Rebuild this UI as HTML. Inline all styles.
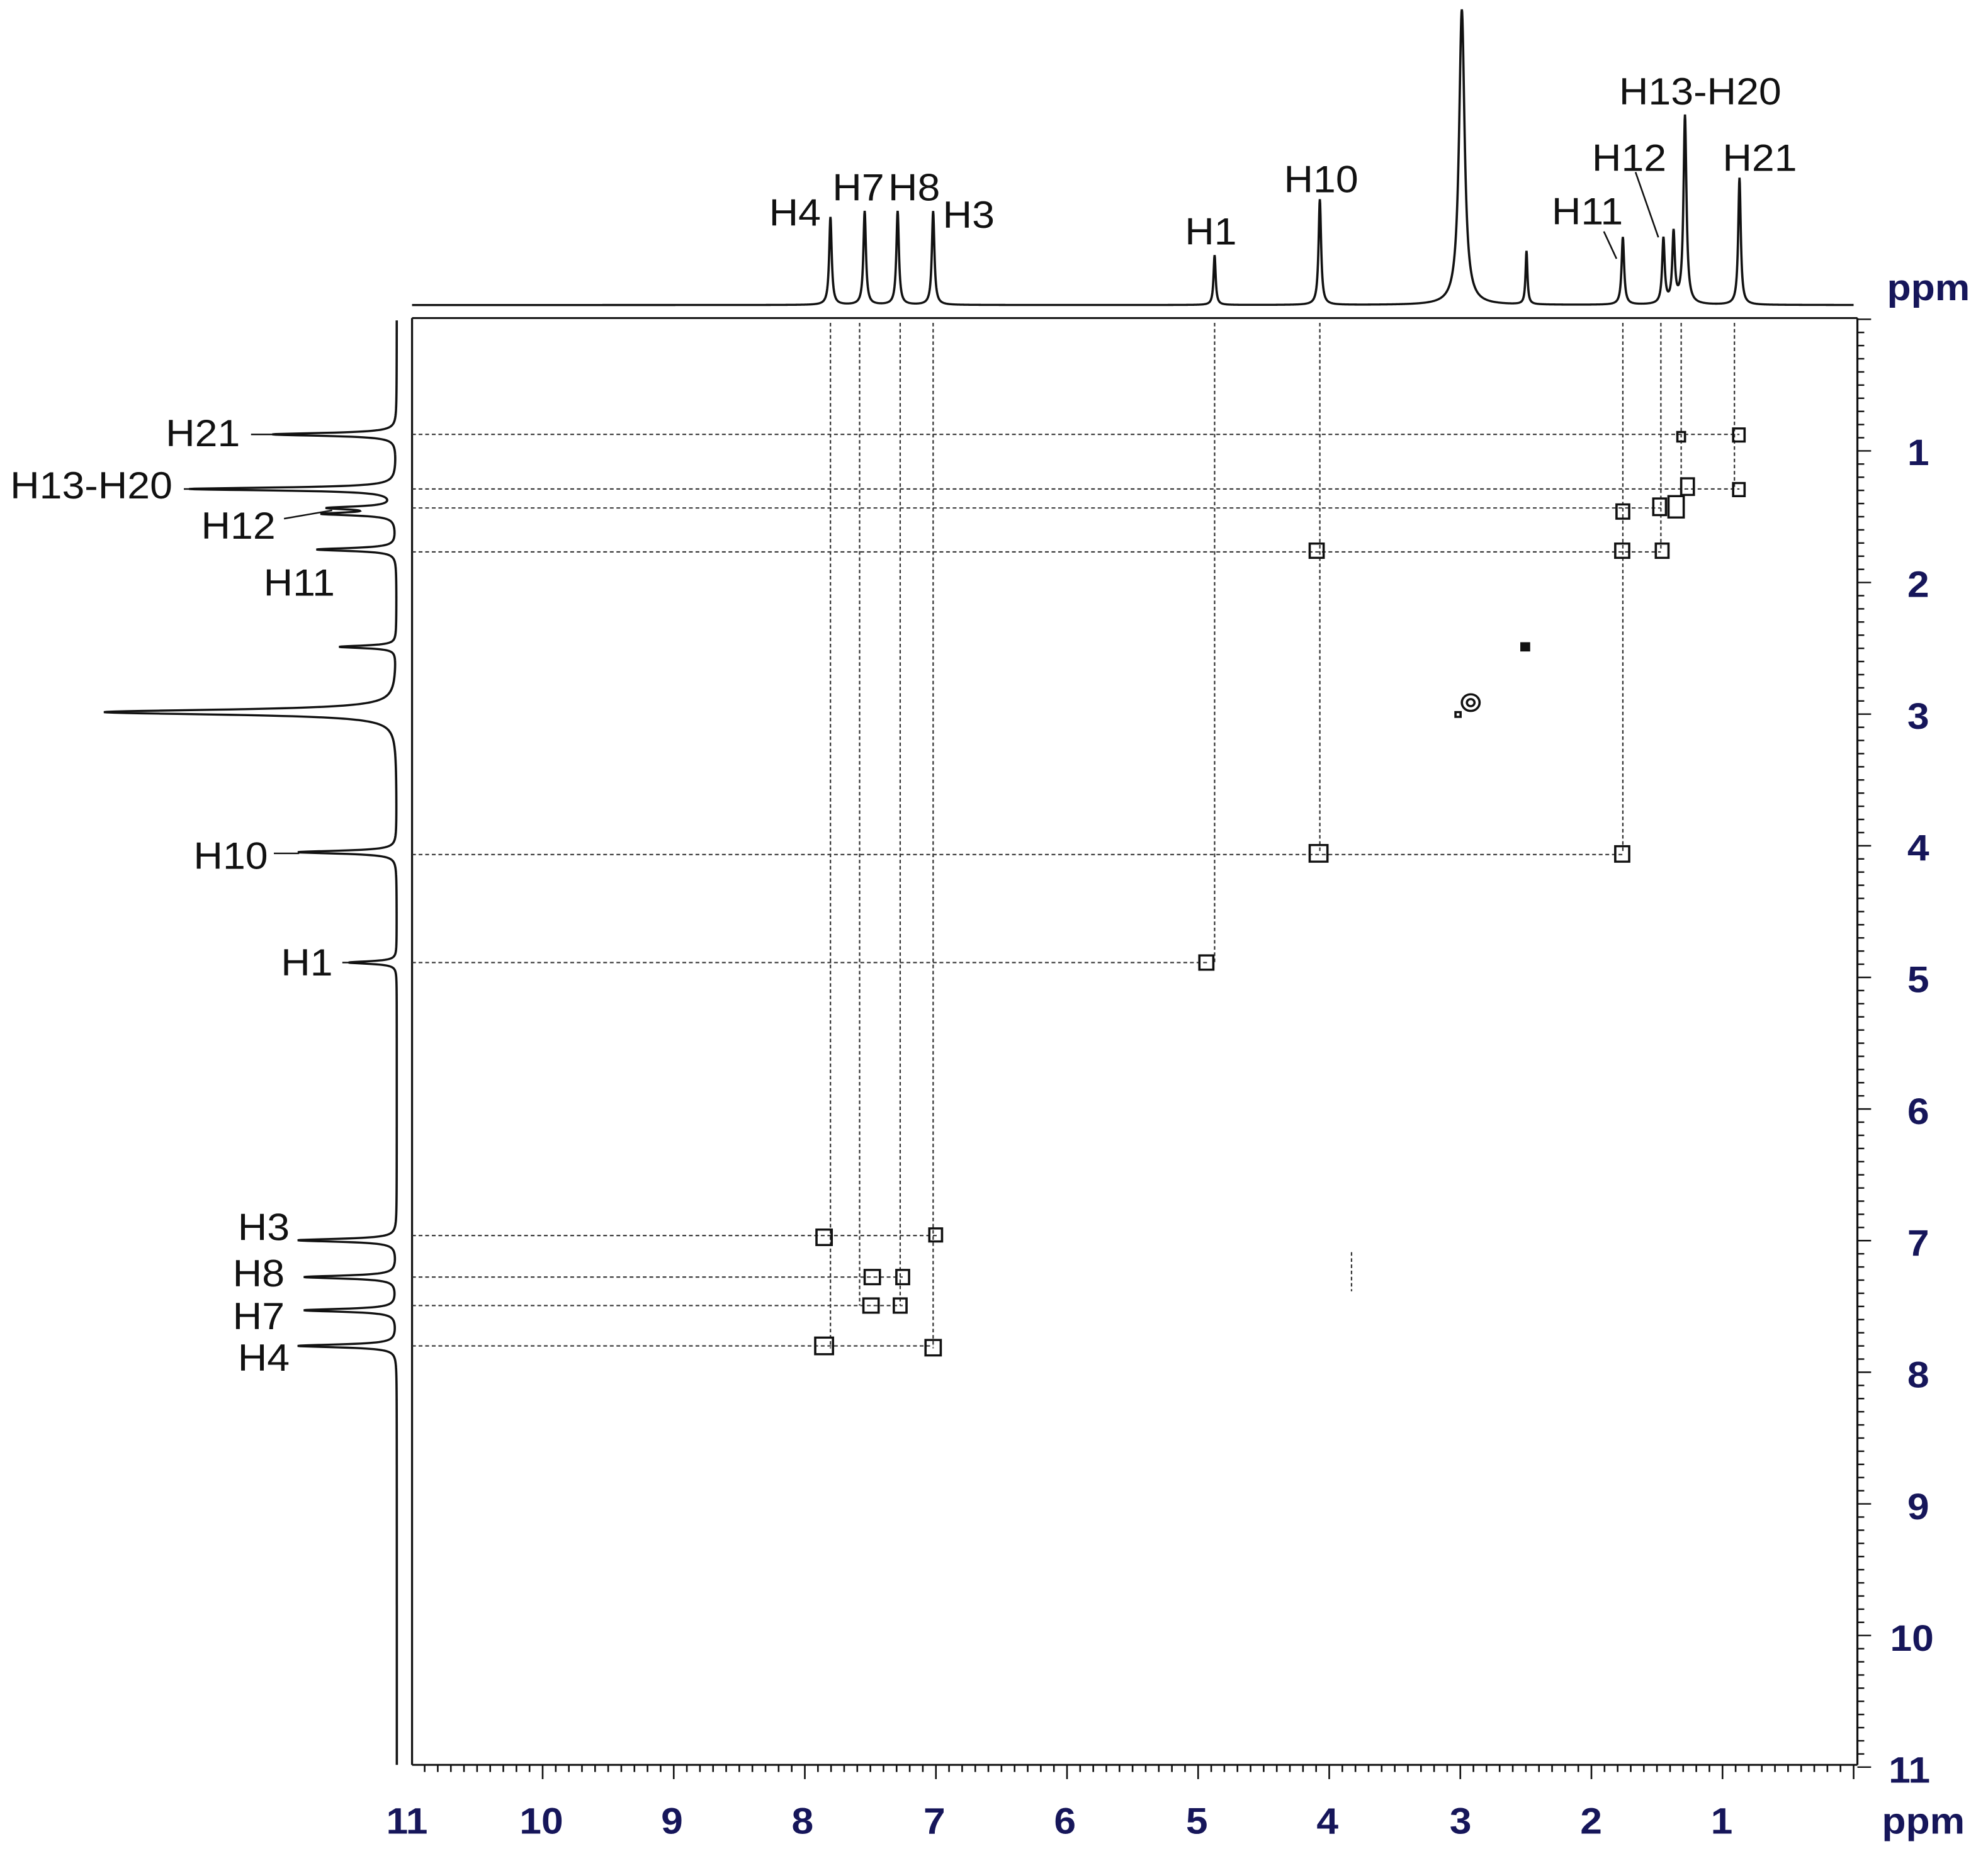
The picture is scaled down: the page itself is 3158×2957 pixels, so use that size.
<!DOCTYPE html>
<html><head><meta charset="utf-8"><style>
html,body{margin:0;padding:0;background:#fff;}
svg{display:block;}
.lab{font-family:"Liberation Sans",sans-serif;font-size:32px;fill:#111;}
.ax{font-family:"Liberation Sans",sans-serif;font-size:31px;font-weight:bold;fill:#16165a;}
.d{stroke:#333;stroke-width:1.1;stroke-dasharray:3 2.2;fill:none;}
.cp{fill:none;stroke:#111;stroke-width:1.8;}
</style></head><body>
<svg id="s" width="3158" height="2957" viewBox="0 0 1568 1568" preserveAspectRatio="none" xmlns="http://www.w3.org/2000/svg">
<rect width="1568" height="1568" fill="#fff"/>
<!-- frame -->
<g stroke="#111" stroke-width="1.6" fill="none">
<line x1="325" y1="268" x2="1465" y2="268"/>
<line x1="325" y1="268" x2="325" y2="1487"/>
<line x1="325" y1="1487" x2="1465" y2="1487"/>
<line x1="1465" y1="268" x2="1465" y2="1487"/>
</g>
<g id="ticks" stroke="#111" stroke-width="1.3"></g>
<!-- axis labels -->
<g class="ax" text-anchor="middle">
<text x="321" y="1545">11</text><text x="427" y="1545">10</text><text x="530" y="1545">9</text>
<text x="633" y="1545">8</text><text x="737" y="1545">7</text><text x="840" y="1545">6</text>
<text x="944" y="1545">5</text><text x="1047" y="1545">4</text><text x="1152" y="1545">3</text>
<text x="1255" y="1545">2</text><text x="1358" y="1545">1</text>
<text x="1517" y="1545">ppm</text>
<text x="1521" y="253">ppm</text>
<text x="1513" y="392">1</text><text x="1513" y="503">2</text><text x="1513" y="614">3</text>
<text x="1513" y="725">4</text><text x="1513" y="836">5</text><text x="1513" y="947">6</text>
<text x="1513" y="1058">7</text><text x="1513" y="1169">8</text><text x="1513" y="1280">9</text>
<text x="1508" y="1391">10</text><text x="1506" y="1502">11</text>
</g>
<!-- dashed verticals -->
<g class="d">
<line x1="655" y1="272" x2="655" y2="1136"/>
<line x1="678" y1="272" x2="678" y2="1100"/>
<line x1="710" y1="272" x2="710" y2="1100"/>
<line x1="736" y1="272" x2="736" y2="1136"/>
<line x1="958" y1="272" x2="958" y2="811"/>
<line x1="1041" y1="272" x2="1041" y2="718"/>
<line x1="1280" y1="272" x2="1280" y2="718"/>
<line x1="1310" y1="272" x2="1310" y2="463"/>
<line x1="1326" y1="272" x2="1326" y2="412"/>
<line x1="1368" y1="272" x2="1368" y2="412"/>
<line x1="325" y1="366" x2="1372" y2="366"/>
<line x1="325" y1="412" x2="1372" y2="412"/>
<line x1="325" y1="428" x2="1310" y2="428"/>
<line x1="325" y1="465" x2="1310" y2="465"/>
<line x1="325" y1="720" x2="1280" y2="720"/>
<line x1="325" y1="811" x2="952" y2="811"/>
<line x1="325" y1="1041" x2="740" y2="1041"/>
<line x1="325" y1="1076" x2="712" y2="1076"/>
<line x1="325" y1="1100" x2="712" y2="1100"/>
<line x1="325" y1="1134" x2="736" y2="1134"/>
<line x1="1066" y1="1055" x2="1066" y2="1088"/>
</g>
<!-- cross peaks -->
<g class="cp">
<rect x="1367" y="361" width="9" height="11"/>
<rect x="1323" y="364" width="6" height="8"/>
<rect x="1367" y="407" width="9" height="11"/>
<rect x="1275" y="425" width="10" height="12"/>
<rect x="1304" y="420" width="10" height="14"/>
<rect x="1316" y="418" width="12" height="18"/>
<rect x="1326" y="403" width="10" height="14"/>
<rect x="1033" y="458" width="11" height="12"/>
<rect x="1274" y="458" width="11" height="12"/>
<rect x="1306" y="458" width="10" height="12"/>
<rect x="1200" y="542" width="6" height="6" fill="#111"/>
<circle cx="1160" cy="592" r="7"/><circle cx="1160" cy="592" r="3"/>
<rect x="1148" y="600" width="4" height="4"/>
<rect x="1033" y="712" width="14" height="14"/>
<rect x="1274" y="713" width="11" height="13"/>
<rect x="946" y="805" width="11" height="12"/>
<rect x="644" y="1036" width="12" height="13"/>
<rect x="733" y="1035" width="10" height="11"/>
<rect x="682" y="1070" width="12" height="12"/>
<rect x="707" y="1070" width="10" height="12"/>
<rect x="681" y="1094" width="12" height="12"/>
<rect x="705" y="1094" width="10" height="12"/>
<rect x="643" y="1127" width="14" height="14"/>
<rect x="730" y="1129" width="12" height="13"/>
</g>
<!-- spectra -->
<path id="top" fill="none" stroke="#111" stroke-width="1.8"/>
<path id="left" fill="none" stroke="#111" stroke-width="1.8"/>
<!-- leader lines -->
<g stroke="#111" stroke-width="1.3" fill="none">
<line x1="1265" y1="195" x2="1275" y2="218"/>
<line x1="1290" y1="145" x2="1308" y2="200"/>
<line x1="198" y1="366" x2="218" y2="366"/>
<line x1="145" y1="412" x2="155" y2="412"/>
<line x1="224" y1="437" x2="262" y2="430"/>
<line x1="216" y1="719" x2="236" y2="719"/>
<line x1="270" y1="811" x2="276" y2="811"/>
</g>
<!-- labels -->
<g class="lab" text-anchor="middle">
<text x="627" y="190">H4</text><text x="677" y="169">H7</text><text x="721" y="169">H8</text>
<text x="764" y="192">H3</text><text x="955" y="206">H1</text><text x="1042" y="162">H10</text>
<text x="1252" y="189">H11</text><text x="1285" y="144">H12</text><text x="1341" y="88">H13-H20</text>
<text x="1388" y="144">H21</text>
<text x="160" y="376">H21</text><text x="72" y="420">H13-H20</text><text x="188" y="454">H12</text>
<text x="236" y="502">H11</text><text x="182" y="732">H10</text><text x="242" y="822">H1</text>
<text x="208" y="1045">H3</text><text x="204" y="1084">H8</text><text x="204" y="1120">H7</text>
<text x="208" y="1155">H4</text>
</g>
</svg>
<script>
(function(){
var NS="http://www.w3.org/2000/svg";
var t=document.getElementById('ticks'),s="";
for(var i=0;i<=110;i++){var p=i/10;var x=1462-103.4*p;if(x<325)continue;var L=(i%10==0)?12:6;
s+='<line x1="'+x.toFixed(2)+'" y1="1487" x2="'+x.toFixed(2)+'" y2="'+(1487+L)+'"/>';}
for(var i=0;i<=110;i++){var p=i/10;var y=269+110.9*p;if(y>1489)continue;var L=(i%10==0)?12:6;
s+='<line x1="1465" y1="'+y.toFixed(2)+'" x2="'+(1465+L*0.9)+'" y2="'+y.toFixed(2)+'"/>';}
t.innerHTML=s;
var tp=[[655,74,1.2],[682,79,1.2],[708,79,1.2],[736,79,1.2],[958,42,1],[1041,89,1.2],[1153,249,2.6],[1204,45,0.9],[1280,57,1.2],[1312,55,1.2],[1320,59,1.2],[1329,159,1.4],[1372,107,1.2]];
var d="";for(var x=325;x<=1462;x+=0.25){var v=0;for(var k=0;k<tp.length;k++){var dx=x-tp[k][0],g=tp[k][2];v+=tp[k][1]*g*g/(dx*dx+g*g);}
d+=(d?"L":"M")+x.toFixed(2)+","+(257-v).toFixed(2);}
document.getElementById('top').setAttribute('d',d);
var lp=[[366,98,1.5],[412,163,1.5],[428,50,1.5],[433,55,1.5],[463,63,1.5],[545,45,1.3],[600,231,2.6],[718,78,1.5],[811,38,1.3],[1045,78,1.5],[1076,73,1.5],[1104,73,1.5],[1134,78,1.5]];
d="";for(var y=270;y<=1487;y+=0.25){var v=0;for(var k=0;k<lp.length;k++){var dy=y-lp[k][0],g=lp[k][2];v+=lp[k][1]*g*g/(dy*dy+g*g);}
d+=(d?"L":"M")+(313-v).toFixed(2)+","+y.toFixed(2);}
document.getElementById('left').setAttribute('d',d);
})();
</script>
</body></html>
